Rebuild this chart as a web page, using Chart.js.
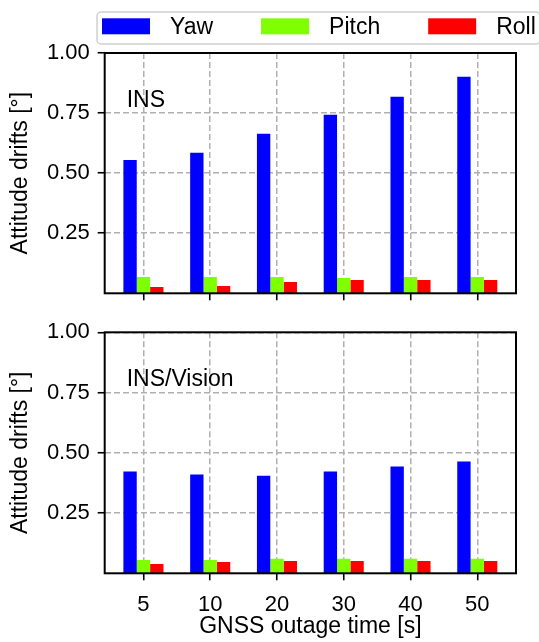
<!DOCTYPE html>
<html>
<head>
<meta charset="utf-8">
<script src="https://cdn.jsdelivr.net/npm/chart.js@4.4.1/dist/chart.umd.min.js"></script>
<style>
  html, body { margin: 0; padding: 0; background: #fff; }
  #wrap { position: relative; width: 539px; height: 642px; overflow: hidden; }
  #wrap canvas { position: absolute; left: 0; }
</style>
</head>
<body>
<div id="wrap">
  <canvas id="insChart" width="539" height="320" style="top:0"></canvas>
  <canvas id="visionChart" width="539" height="342" style="top:300px"></canvas>
</div>
<script>
// Outage durations on the x axis and the three attitude components
const outageTimes = ['5', '10', '20', '30', '40', '50'];
const seriesNames = ['Yaw', 'Pitch', 'Roll'];
const seriesColors = ['#0000ff', '#7fff00', '#ff0000'];

// Attitude drifts [deg], INS only
const insYaw   = [0.555, 0.585, 0.664, 0.743, 0.818, 0.901];
const insPitch = [0.068, 0.068, 0.068, 0.064, 0.068, 0.068];
const insRoll  = [0.026, 0.030, 0.047, 0.055, 0.055, 0.055];

// Attitude drifts [deg], INS/Vision
const visYaw   = [0.422, 0.410, 0.405, 0.422, 0.443, 0.464];
const visPitch = [0.055, 0.055, 0.060, 0.060, 0.060, 0.060];
const visRoll  = [0.039, 0.047, 0.051, 0.051, 0.051, 0.051];

const yTicks = [0.25, 0.50, 0.75, 1.00];

const FONT = '"Liberation Sans", Arial, Helvetica, sans-serif';

function toPoints(values) {
  return values.map((v, i) => ({ x: i, y: v }));
}

function makeDatasets(groups) {
  return groups.map((vals, k) => ({
    label: seriesNames[k],
    data: toPoints(vals),
    backgroundColor: seriesColors[k],
    borderWidth: 0,
    categoryPercentage: 0.6,
    barPercentage: 1.0
  }));
}

// Closed black frame around the plotting area
const framePlugin = {
  id: 'frame',
  afterDraw(chart) {
    const { ctx, chartArea: a } = chart;
    ctx.save();
    ctx.strokeStyle = '#000';
    ctx.lineWidth = 2;
    ctx.strokeRect(a.left, a.top, a.right - a.left, a.bottom - a.top);
    ctx.restore();
  }
};

// Panel caption in the upper-left part of the plotting area
const captionPlugin = {
  id: 'caption',
  afterDraw(chart, args, opts) {
    if (!opts.text) return;
    const { ctx, chartArea: a } = chart;
    ctx.save();
    ctx.font = '23px ' + FONT;
    ctx.fillStyle = '#000';
    ctx.textBaseline = 'alphabetic';
    ctx.textAlign = 'left';
    ctx.fillText(opts.text, a.left + 22, a.top + 54);
    ctx.restore();
  }
};

// Single-row legend in a rounded box above the upper panel
const boxLegendPlugin = {
  id: 'boxLegend',
  afterDraw(chart, args, opts) {
    if (!opts.display) return;
    const ctx = chart.ctx;
    ctx.save();
    ctx.font = '23px ' + FONT;
    const boxX = 97, boxY = 12, boxH = 32, boxR = 4;
    const swW = 48, swH = 16, textGap = 20, colGap = 48, padL = 5;
    let x = boxX + padL;
    const items = chart.data.datasets.map(ds => {
      const w = ctx.measureText(ds.label).width;
      const it = { label: ds.label, color: ds.backgroundColor, x, w };
      x += swW + textGap + w + colGap;
      return it;
    });
    const last = items[items.length - 1];
    const boxW = last.x + swW + textGap + last.w + 4 - boxX;
    ctx.beginPath();
    ctx.roundRect(boxX, boxY, boxW, boxH, boxR);
    ctx.fillStyle = 'rgba(255,255,255,0.9)';
    ctx.fill();
    ctx.strokeStyle = '#d0d0d0';
    ctx.lineWidth = 1.5;
    ctx.stroke();
    ctx.textBaseline = 'alphabetic';
    ctx.textAlign = 'left';
    items.forEach(it => {
      ctx.fillStyle = it.color;
      ctx.fillRect(it.x, boxY + 6.3, swW, swH);
      ctx.fillStyle = '#000';
      ctx.fillText(it.label, it.x + swW + textGap, boxY + 22.3);
    });
    ctx.restore();
  }
};

function makeOptions(cfg) {
  return {
    responsive: false,
    devicePixelRatio: 1,
    animation: false,
    layout: { padding: { left: 0, top: cfg.padTop, right: 23, bottom: 0 } },
    plugins: {
      legend: { display: false },
      tooltip: { enabled: false },
      caption: { text: cfg.caption },
      boxLegend: { display: cfg.legend }
    },
    scales: {
      x: {
        type: 'linear',
        min: -0.58,
        max: 5.58,
        offset: false,
        z: 1,
        afterBuildTicks: s => { s.ticks = outageTimes.map((_, i) => ({ value: i })); },
        afterFit: s => { s.height = cfg.xHeight; },
        grid: {
          offset: false,
          color: '#b0b0b0',
          lineWidth: 1.5,
          drawTicks: true,
          tickLength: 7,
          tickColor: '#000',
          tickWidth: 1.6,
          tickBorderDash: []
        },
        border: { display: false, dash: [6, 3] },
        ticks: {
          display: cfg.showX,
          padding: 11,
          color: '#000',
          font: { family: FONT, size: 22 },
          maxRotation: 0,
          autoSkip: false,
          callback: v => outageTimes[v] ?? ''
        },
        title: {
          display: cfg.showX,
          text: 'GNSS outage time [s]',
          color: '#000',
          font: { family: FONT, size: 23 },
          padding: { top: 0, bottom: 1.5 }
        }
      },
      y: {
        min: 0,
        max: 1,
        z: 1,
        afterBuildTicks: s => { s.ticks = yTicks.map(v => ({ value: v })); },
        afterFit: s => { s.width = 104.7; },
        grid: {
          color: '#b0b0b0',
          lineWidth: 1.5,
          drawTicks: true,
          tickLength: 7,
          tickColor: '#000',
          tickWidth: 1.6,
          tickBorderDash: []
        },
        border: { display: false, dash: [6, 3] },
        ticks: {
          padding: 8,
          color: '#000',
          font: { family: FONT, size: 22 },
          callback: v => Number(v).toFixed(2)
        },
        title: {
          display: true,
          text: 'Attitude drifts [°]',
          color: '#000',
          font: { family: FONT, size: 23 },
          padding: { top: 7, bottom: 0 }
        }
      }
    }
  };
}

const plugins = [framePlugin, captionPlugin, boxLegendPlugin];

new Chart(document.getElementById('insChart'), {
  type: 'bar',
  data: { datasets: makeDatasets([insYaw, insPitch, insRoll]) },
  options: makeOptions({ padTop: 53, xHeight: 320 - 293.3, showX: false, caption: 'INS', legend: true }),
  plugins
});

new Chart(document.getElementById('visionChart'), {
  type: 'bar',
  data: { datasets: makeDatasets([visYaw, visPitch, visRoll]) },
  options: makeOptions({ padTop: 32.3, xHeight: 342 - 273.3, showX: true, caption: 'INS/Vision', legend: false }),
  plugins
});
</script>
</body>
</html>
